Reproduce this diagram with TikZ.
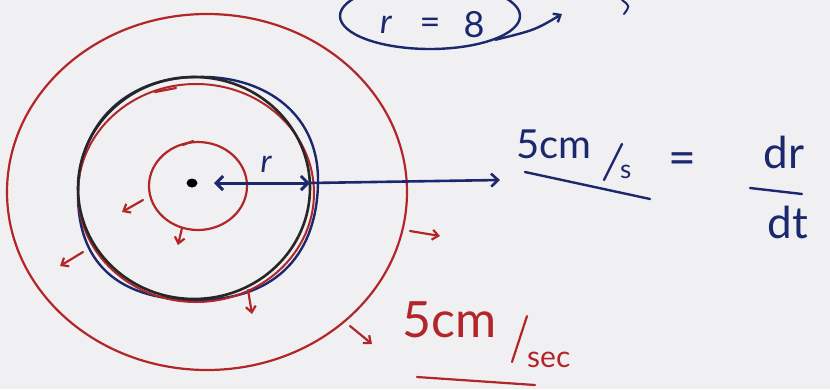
\documentclass[tikz,border=0pt]{standalone}
\usepackage{fontspec}
\setmainfont{Lato}
\usetikzlibrary{arrows.meta,shapes.geometric}
\definecolor{pen}{RGB}{178,38,42}
\definecolor{ink}{RGB}{28,40,110}
\definecolor{board}{RGB}{240,240,242}
\tikzset{
  redpen/.style={draw=pen,line width=2.2pt,line cap=round},
  bluepen/.style={draw=ink,line width=2.4pt,line cap=round},
  blackpen/.style={draw=black!85,line width=2.6pt},
  tip/.style={-{Straight Barb[length=6pt,width=10pt]}},
  redtext/.style={text=pen,inner sep=0,font=\fontsize{40}{42}\selectfont},
  bluetext/.style={text=ink,inner sep=0,font=\fontsize{40}{42}\selectfont},
}
\begin{document}
\begin{tikzpicture}[x=1pt,y=-1pt]
\fill[board] (0,0) rectangle (830,389);
\useasboundingbox (0,0) rectangle (830,389);
% circles
\node[ellipse,redpen,minimum width=400,minimum height=356,inner sep=0] (outer) at (207,192) {};
\node[ellipse,redpen,minimum width=98,minimum height=88,inner sep=0] (inner) at (198,186) {};
\draw[bluepen] (197,77) .. controls (260,75) and (318,110) .. (318,180) .. controls (318,250) and (280,300) .. (196,300) .. controls (115,300) and (78,260) .. (78,195) .. controls (78,120) and (130,77) .. (197,77);
\node[ellipse,draw=pen,line width=2pt,minimum width=236,minimum height=218,inner sep=0] (midred) at (196,193) {};
\node[ellipse,blackpen,minimum width=232,minimum height=222,inner sep=0] (mid) at (194,188) {};
% centre dot and radius arrow
\node[ellipse,fill=black,minimum width=11,minimum height=9,inner sep=0] (dot) at (192,183) {};
\coordinate (rstart) at (214,183);
\coordinate (rmid) at (310,183);
\coordinate (rend) at (500,180);
\draw[bluepen,line width=3pt,{Straight Barb[length=7pt,width=14pt]}-{Straight Barb[length=7pt,width=14pt]}] (rstart) -- (rmid);
\draw[bluepen,line width=2.6pt,-{Straight Barb[length=7pt,width=13pt]}] (rmid) -- (rend);
\node[bluetext,font=\fontsize{32}{34}\selectfont\itshape] (rlab) at (266,164) {r};
% outward red arrows
\coordinate (a1s) at (143,200); \coordinate (a1e) at (122,212);
\coordinate (a2s) at (182,228); \coordinate (a2e) at (178,245);
\coordinate (a3s) at (83,252);  \coordinate (a3e) at (60,266);
\coordinate (a4s) at (248,290); \coordinate (a4e) at (252,314);
\coordinate (a5s) at (410,231); \coordinate (a5e) at (440,236);
\coordinate (a6s) at (350,326); \coordinate (a6e) at (372,344);
\foreach \s/\e in {a1s/a1e,a2s/a2e,a3s/a3e,a4s/a4e,a5s/a5e,a6s/a6e}
  \draw[redpen,tip] (\s) -- (\e);
\coordinate (m1s) at (155,92); \coordinate (m1e) at (176,88);
\draw[redpen] (m1s) -- (m1e);
\coordinate (m2s) at (183,145); \coordinate (m2e) at (193,141);
\draw[redpen] (m2s) -- (m2e);
% r = 8
\node[ellipse,bluepen,draw,minimum width=180,minimum height=66,inner sep=0] (req) at (430,16) {};
\node[bluetext,anchor=base,font=\fontsize{34}{36}\selectfont\itshape] (reqr) at (386,33) {r};
\node[bluetext,anchor=base,font=\fontsize{36}{38}\selectfont] (reqeq) at (430,34) {=};
\node[bluetext,anchor=base,font=\fontsize{36}{38}\selectfont] (req8) at (474,37) {8};
\coordinate (reqarr) at (562,14);
\draw[bluepen,tip] (req.-20) .. controls (535,30) .. (reqarr);
\coordinate (cutA) at (622,0); \coordinate (cutB) at (624,14);
\draw[bluepen,line width=2pt] (cutA) .. controls (630,6) .. (cutB);
% blue rate
\node[bluetext,anchor=base west] (bcm) at (516,158) {5cm};
\coordinate (bsl1) at (604,180); \coordinate (bsl2) at (622,144);
\draw[bluepen] (bsl1) -- (bsl2);
\node[bluetext,font=\fontsize{26}{28}\selectfont,anchor=base west] (bs) at (620,178) {s};
\coordinate (bu1) at (525,172); \coordinate (bu2) at (650,199);
\draw[bluepen] (bu1) -- (bu2);
\node[bluetext,font=\fontsize{48}{50}\selectfont] (beq) at (682,164) {=};
\node[bluetext,font=\fontsize{44}{46}\selectfont,anchor=base] (bdr) at (784,168) {dr};
\node[bluetext,font=\fontsize{44}{46}\selectfont,anchor=base] (bdt) at (788,238) {dt};
\coordinate (fb1) at (750,188); \coordinate (fb2) at (802,194);
\draw[bluepen] (fb1) -- (fb2);
% red rate
\node[redtext,font=\fontsize{50}{52}\selectfont,anchor=base west] (rcm) at (402,337) {5cm};
\coordinate (rsl1) at (512,362); \coordinate (rsl2) at (527,316);
\draw[redpen] (rsl1) -- (rsl2);
\node[redtext,font=\fontsize{30}{32}\selectfont,anchor=base west] (rsec) at (527,367) {sec};
\coordinate (ru1) at (417,377); \coordinate (ru2) at (535,385);
\draw[redpen] (ru1) -- (ru2);
\end{tikzpicture}
\end{document}
